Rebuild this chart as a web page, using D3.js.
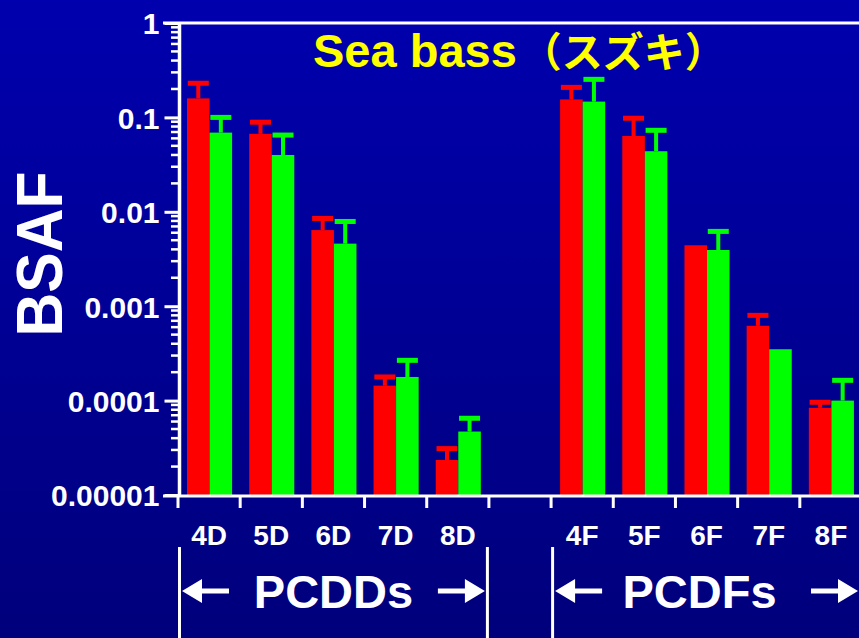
<!DOCTYPE html>
<html>
<head>
<meta charset="utf-8">
<script src="https://cdn.jsdelivr.net/npm/d3@7"></script>
<style>
html,body{margin:0;padding:0;background:#000080;}
svg{display:block;}
text{font-family:"Liberation Sans",Arial,"Noto Sans CJK JP",sans-serif;font-weight:bold;}
</style>
</head>
<body>
<svg id="chart" width="859" height="638"></svg>
<script>
// ---- data ----
const categories = ["4D","5D","6D","7D","8D","gap","4F","5F","6F","7F","8F"];
const seriesNames = ["red","green"];
const redValues   = [0.159, 0.067, 0.0064, 0.000144, 0.0000235, null, 0.155, 0.0635, 0.00442, 0.00062, 0.000084];
const redUpper    = [0.23,  0.089, 0.0085, 0.000178, 0.000031,  null, 0.208, 0.098,  null,    0.0008,  0.000096];
const greenValues = [0.069, 0.040, 0.0046, 0.000178, 0.000047,  null, 0.147, 0.0438, 0.00394, 0.00035, 0.0001];
const greenUpper  = [0.10,  0.065, 0.0079, 0.000267, 0.000065,  null, 0.253, 0.073,  0.0062,  null,    0.000164];
const yTickValues = [1, 0.1, 0.01, 0.001, 0.0001, 0.00001];
const yTickLabels = ["1","0.1","0.01","0.001","0.0001","0.00001"];
const groups = [
  {label:"PCDDs", from:"4D", to:"8D"},
  {label:"PCDFs", from:"4F", to:"8F"}
];
const titleLatin = "Sea bass";
const titleJa = "（スズキ）";
const yAxisTitle = "BSAF";

// ---- setup ----
const W = 859, H = 638;
const svg = d3.select("#chart");
const defs = svg.append("defs");
const grad = defs.append("linearGradient").attr("id","bg").attr("x1",0).attr("y1",0).attr("x2",0).attr("y2",1);
grad.append("stop").attr("offset","0%").attr("stop-color","#0000AE");
grad.append("stop").attr("offset","100%").attr("stop-color","#00007C");
svg.append("rect").attr("width",W).attr("height",H).attr("fill","url(#bg)");

const x = d3.scaleBand().domain(categories).range([178, 862]).paddingInner(0).paddingOuter(0);
const bw = x.bandwidth();
const xs = d3.scaleBand().domain(seriesNames).range([bw*0.145, bw*0.87]).padding(0);
const y = d3.scaleLog().domain([1e-5, 1]).range([495, 23]);

const rows = categories.map((c,i)=>({cat:c, vals:[
  {s:"red", v:redValues[i], u:redUpper[i], color:"#FF0000"},
  {s:"green", v:greenValues[i], u:greenUpper[i], color:"#00FF00"}
]})).filter(r=>r.cat!=="gap");

// bars
const g = svg.append("g");
rows.forEach(r=>{
  r.vals.forEach(d=>{
    const bx = x(r.cat)+xs(d.s);
    g.append("rect").attr("x",bx).attr("y",y(d.v)).attr("width",xs.bandwidth()).attr("height",y(1e-5)-y(d.v)).attr("fill",d.color);
  });
});
// error bars
rows.forEach(r=>{
  r.vals.forEach(d=>{
    if(d.u==null || d.u<=d.v) return;
    const cx = x(r.cat)+xs(d.s)+xs.bandwidth()/2;
    g.append("rect").attr("x",cx-2).attr("y",y(d.u)).attr("width",4).attr("height",y(d.v)-y(d.u)).attr("fill",d.color);
    g.append("rect").attr("x",cx-10.5).attr("y",y(d.u)-2.5).attr("width",21).attr("height",5).attr("fill",d.color);
  });
});

// y axis with log minor ticks
const yAxis = d3.axisLeft(y).tickValues(yTickValues).tickFormat((d,i)=>yTickLabels[i]).tickSize(15).tickPadding(5);
const ya = svg.append("g").attr("transform","translate(179.5,0)").call(yAxis);
ya.select(".domain").remove();
ya.selectAll(".tick line").attr("stroke","#fff").attr("stroke-width",3);
ya.selectAll(".tick text").attr("fill","#fff").attr("font-size",30).attr("dy","0.36em");
const minor = [];
for(let e=-5;e<0;e++){ for(let k=2;k<=9;k++){ minor.push(k*Math.pow(10,e)); } }
svg.append("g").selectAll("line").data(minor).join("line")
  .attr("x1",171).attr("x2",179).attr("y1",d=>y(d)).attr("y2",d=>y(d))
  .attr("stroke","#fff").attr("stroke-width",2.5);
svg.append("line").attr("x1",179.5).attr("x2",179.5).attr("y1",23).attr("y2",497).attr("stroke","#fff").attr("stroke-width",3.5);
// top frame
svg.append("line").attr("x1",163).attr("x2",W).attr("y1",23).attr("y2",23).attr("stroke","#fff").attr("stroke-width",3);

// x axis
svg.append("line").attr("x1",163).attr("x2",W).attr("y1",496).attr("y2",496).attr("stroke","#fff").attr("stroke-width",3);
const bounds = categories.map(c=>x(c)).concat([x.range()[1]]);
svg.append("g").selectAll("line").data(bounds).join("line")
  .attr("x1",d=>d).attr("x2",d=>d).attr("y1",496).attr("y2",508)
  .attr("stroke","#fff").attr("stroke-width",3);
svg.append("g").selectAll("text").data(categories.filter(c=>c!=="gap")).join("text")
  .attr("x",c=>x(c)+bw/2).attr("y",545).attr("text-anchor","middle")
  .attr("fill","#fff").attr("font-size",28).text(c=>c);

// group brackets
groups.forEach(gr=>{
  const x0 = x(gr.from), x1 = x(gr.to)+bw;
  const gg = svg.append("g");
  gg.append("line").attr("x1",x0+1.5).attr("x2",x0+1.5).attr("y1",547).attr("y2",H).attr("stroke","#fff").attr("stroke-width",3);
  gg.append("line").attr("x1",x1-1.5).attr("x2",x1-1.5).attr("y1",547).attr("y2",H).attr("stroke","#fff").attr("stroke-width",3);
  const ay = 591;
  gg.append("path").attr("fill","#fff")
    .attr("d",`M${x0+4},${ay} L${x0+24},${ay-12} L${x0+24},${ay-2.5} L${x0+51},${ay-2.5} L${x0+51},${ay+2.5} L${x0+24},${ay+2.5} L${x0+24},${ay+12} Z`);
  gg.append("path").attr("fill","#fff")
    .attr("d",`M${x1-4},${ay} L${x1-24},${ay-12} L${x1-24},${ay-2.5} L${x1-51},${ay-2.5} L${x1-51},${ay+2.5} L${x1-24},${ay+2.5} L${x1-24},${ay+12} Z`);
  gg.append("text").attr("x",(x0+x1)/2 - (gr.label==="PCDFs"?7:0)).attr("y",608).attr("text-anchor","middle")
    .attr("fill","#fff").attr("font-size",47).text(gr.label);
});

// title
const t = svg.append("text").attr("x",313).attr("y",67).attr("text-anchor","start").attr("fill","#FFFF00");
t.append("tspan").attr("font-size",47).text(titleLatin);
t.append("tspan").attr("dx",4).attr("font-size",41).attr("font-family","'Noto Sans CJK JP',sans-serif").attr("font-weight","bold").text(titleJa);

// y axis title
svg.append("text").attr("transform","translate(62,254) rotate(-90)").attr("text-anchor","middle")
  .attr("fill","#fff").attr("font-size",65).attr("textLength",165).attr("lengthAdjust","spacingAndGlyphs").text(yAxisTitle);
</script>
</body>
</html>
